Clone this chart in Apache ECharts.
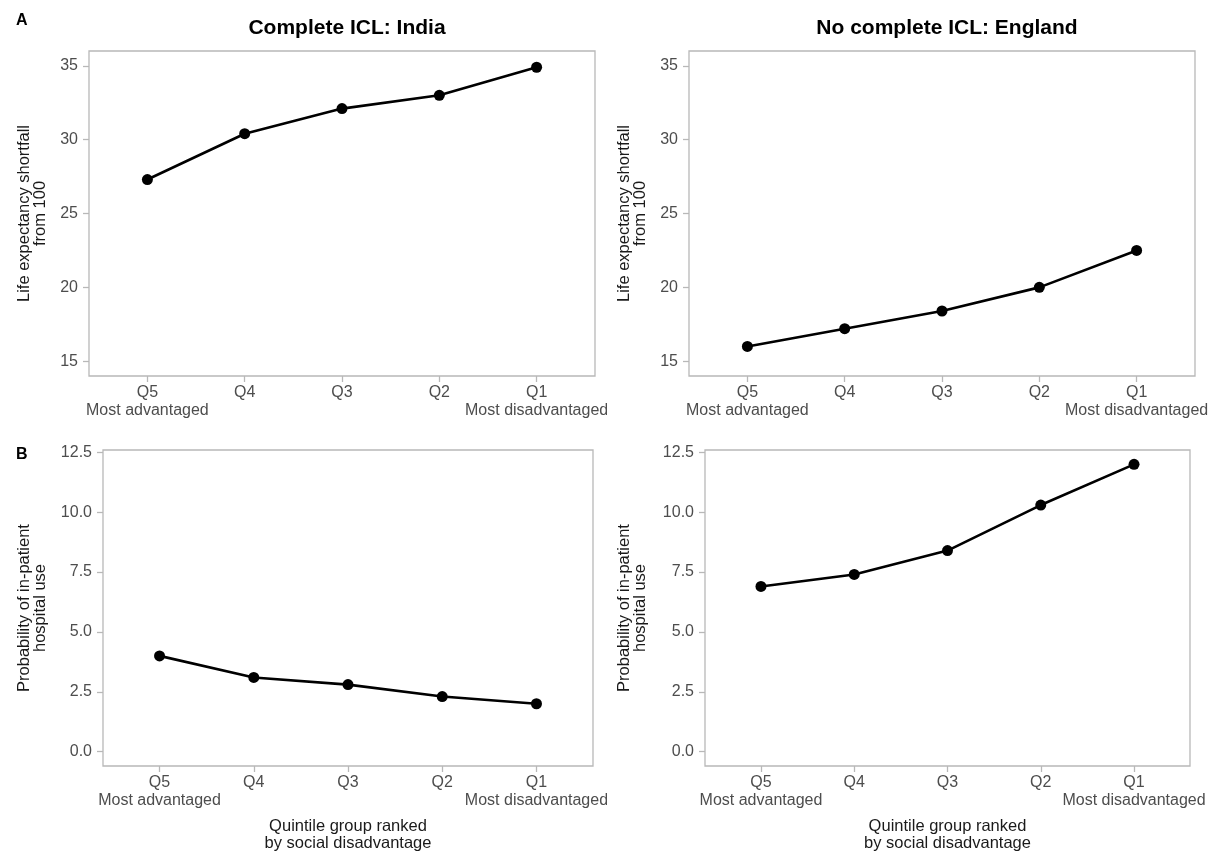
<!DOCTYPE html>
<html>
<head>
<meta charset="utf-8">
<script src="https://cdn.jsdelivr.net/npm/echarts@6/dist/echarts.min.js"></script>
<style>
  body { margin: 0; background: #fff; }
  #left { position: absolute; left: 0; top: 0; width: 607px; height: 852px; }
  #right { position: absolute; left: 607px; top: 0; width: 602px; height: 852px; }
</style>
</head>
<body>
<div id="left"></div>
<div id="right"></div>
<script>
// data
const quintiles = ['Q5', 'Q4', 'Q3', 'Q2', 'Q1'];
const quintileNotes = ['Most advantaged', '', '', '', 'Most disadvantaged'];
const lifeTicks = [15, 20, 25, 30, 35];
const hospTicks = [0, 2.5, 5, 7.5, 10, 12.5];
const indiaShortfall = [27.3, 30.4, 32.1, 33.0, 34.9];
const englandShortfall = [16.0, 17.2, 18.4, 20.0, 22.5];
const indiaHospital = [4.0, 3.1, 2.8, 2.3, 2.0];
const englandHospital = [6.9, 7.4, 8.4, 10.3, 12.0];

const positions = quintiles.map((q, i) => i + 1);
const font = 'Liberation Sans, Arial, sans-serif';
const grey = '#b8b8b8';

function xAxis(gridIndex, withName) {
  return {
    type: 'value', gridIndex: gridIndex, min: 0.4, max: 5.6,
    axisLine: { show: false, onZero: false },
    splitLine: { show: false },
    axisTick: { customValues: positions, length: 6, lineStyle: { color: grey, width: 1.3 } },
    axisLabel: {
      customValues: positions, margin: 8, color: '#4d4d4d', fontSize: 16,
      fontFamily: font, lineHeight: 18,
      formatter: v => {
        const i = Math.round(v) - 1;
        return quintiles[i] + '\n' + quintileNotes[i];
      }
    },
    name: withName ? 'Quintile group ranked\nby social disadvantage' : '',
    nameLocation: 'middle', nameGap: 52,
    nameTextStyle: { color: '#1a1a1a', fontSize: 16.5, fontFamily: font, lineHeight: 17 }
  };
}

function yAxis(gridIndex, min, max, ticks, name, gap, digits) {
  return {
    type: 'value', gridIndex: gridIndex, min: min, max: max,
    axisLine: { show: false, onZero: false },
    splitLine: { show: false },
    axisTick: { show: true, customValues: ticks, length: 6, lineStyle: { color: grey, width: 1.3 } },
    axisLabel: {
      customValues: ticks, margin: 11, color: '#4d4d4d', fontSize: 16, fontFamily: font,
      formatter: v => v.toFixed(digits)
    },
    name: name, nameLocation: 'middle', nameGap: gap, nameRotate: 90,
    nameTextStyle: { color: '#1a1a1a', fontSize: 16.5, fontFamily: font, lineHeight: 16 }
  };
}

function lineSeries(idx, values) {
  return {
    type: 'line', xAxisIndex: idx, yAxisIndex: idx,
    data: values.map((v, i) => [positions[i], v]),
    symbol: 'circle', symbolSize: 11,
    itemStyle: { color: '#000' },
    lineStyle: { color: '#000', width: 2.6 },
    silent: true, animation: false
  };
}

function column(el, cfg) {
  const chart = echarts.init(document.getElementById(el));
  const titles = [{
    text: cfg.title, left: cfg.titleX, top: 13, textAlign: 'center',
    textStyle: { fontSize: 21, fontWeight: 'bold', color: '#000', fontFamily: font }
  }];
  cfg.tags.forEach(t => titles.push({
    text: t.text, left: 11, top: t.top,
    textStyle: { fontSize: 16, fontWeight: 'bold', color: '#000', fontFamily: font }
  }));
  const gridBase = {
    show: true, borderColor: grey, borderWidth: 1.3,
    containLabel: false, outerBoundsMode: 'none'
  };
  chart.setOption({
    animation: false,
    title: titles,
    grid: [
      Object.assign({ left: cfg.gridA.left, width: cfg.gridA.width, top: 51, height: 325 }, gridBase),
      Object.assign({ left: cfg.gridB.left, width: cfg.gridB.width, top: 450, height: 316 }, gridBase)
    ],
    xAxis: [xAxis(0, false), xAxis(1, true)],
    yAxis: [
      yAxis(0, 14, 36, lifeTicks, 'Life expectancy shortfall\nfrom 100', cfg.gapA, 0),
      yAxis(1, -0.6, 12.6, hospTicks, 'Probability of in-patient\nhospital use', cfg.gapB, 1)
    ],
    series: [lineSeries(0, cfg.shortfall), lineSeries(1, cfg.hospital)]
  });
}

column('left', {
  title: 'Complete ICL: India', titleX: 342,
  tags: [{ text: 'A', top: 8 }, { text: 'B', top: 442 }],
  gridA: { left: 89, width: 506 }, gridB: { left: 103, width: 490 },
  gapA: 41, gapB: 55,
  shortfall: indiaShortfall, hospital: indiaHospital
});

column('right', {
  title: 'No complete ICL: England', titleX: 335,
  tags: [],
  gridA: { left: 82, width: 506 }, gridB: { left: 98, width: 485 },
  gapA: 41, gapB: 57,
  shortfall: englandShortfall, hospital: englandHospital
});
</script>
</body>
</html>
